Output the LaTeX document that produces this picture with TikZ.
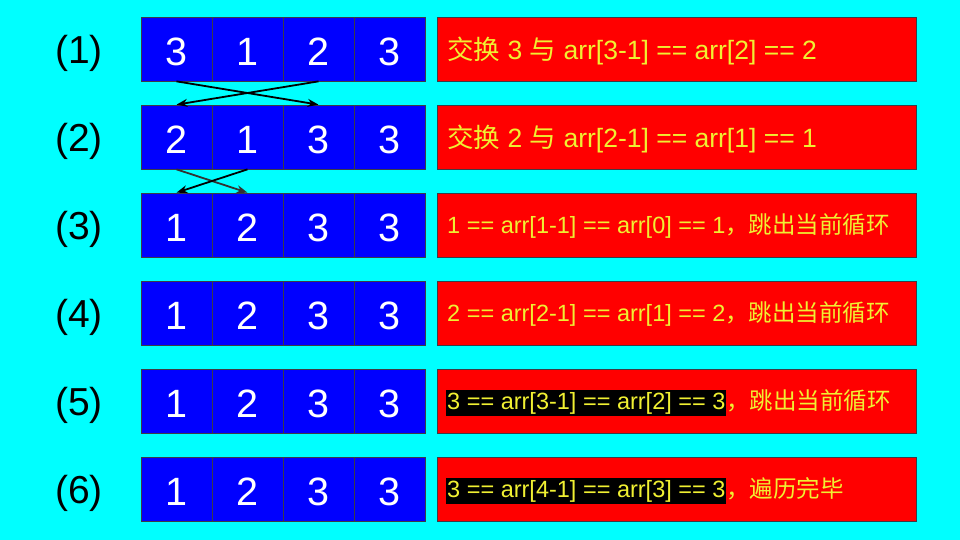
\documentclass[tikz,border=0pt]{standalone}
\usepackage{fontspec}
\setmainfont{Liberation Sans}
\newfontfamily\cjk{Noto Sans CJK SC}
\usetikzlibrary{arrows.meta}
\definecolor{bg}{RGB}{0,255,255}
\definecolor{cellblue}{RGB}{0,0,255}
\definecolor{cellline}{RGB}{60,60,70}
\definecolor{boxred}{RGB}{255,0,0}
\definecolor{txtyellow}{RGB}{240,240,50}
\definecolor{arrgray}{RGB}{50,50,50}
\newcommand{\hl}[1]{{\setlength{\fboxsep}{1pt}\colorbox{black}{\rule[-5pt]{0pt}{24pt}#1}}}
\begin{document}
\begin{tikzpicture}[x=1pt,y=-1pt,
  cell/.style={minimum width=71pt,minimum height=64pt,inner sep=0pt,fill=cellblue,draw=cellline,line width=0.7pt,text=white,text height=32.3pt,text depth=0pt,font=\fontsize{39.5}{39.5}\selectfont},
  rbox/.style={minimum width=479pt,minimum height=64pt,inner sep=0pt,fill=boxred,draw=cellline,line width=0.7pt},
  lab/.style={inner sep=0pt,font=\fontsize{39}{39}\selectfont,text=black},
  bigtxt/.style={inner sep=0pt,anchor=base west,text=txtyellow,font=\fontsize{26.5}{26.5}\selectfont},
  smalltxt/.style={inner sep=0pt,anchor=base west,text=txtyellow,font=\fontsize{23.5}{23.5}\selectfont},
  arr/.style={line width=1.8pt,-{Stealth[length=11pt,width=8pt]}}]
\useasboundingbox[fill=bg] (0,0) rectangle (960,540);
\foreach \r/\a/\b/\c/\d in {1/3/1/2/3, 2/2/1/3/3, 3/1/2/3/3, 4/1/2/3/3, 5/1/2/3/3, 6/1/2/3/3}{
  \pgfmathsetmacro\yy{49+88*(\r-1)}
  \node[cell] (c\r1) at (176.5,\yy) {\a};
  \node[cell] (c\r2) at (247.5,\yy) {\b};
  \node[cell] (c\r3) at (318.5,\yy) {\c};
  \node[cell] (c\r4) at (389.5,\yy) {\d};
  \node[rbox] (b\r) at (676.5,\yy) {};
  \node[lab] (l\r) at (79,\yy+4.5) {(\r)};
}
\node[bigtxt] (t1) at (447,60) {{\cjk 交换} 3 {\cjk 与} arr[3-1] == arr[2] == 2};
\node[bigtxt] (t2) at (447,148) {{\cjk 交换} 2 {\cjk 与} arr[2-1] == arr[1] == 1};
\node[smalltxt] (t3) at (447,233.5) {1 == arr[1-1] == arr[0] == 1{\cjk ，跳出当前循环}};
\node[smalltxt] (t4) at (447,321.5) {2 == arr[2-1] == arr[1] == 2{\cjk ，跳出当前循环}};
\node[smalltxt] (t5) at (446,409.5) {\hl{3 == arr[3-1] == arr[2] == 3}{\cjk ，跳出当前循环}};
\node[smalltxt] (t6) at (446,497.5) {\hl{3 == arr[4-1] == arr[3] == 3}{\cjk ，遍历完毕}};
\draw[arr] (c11.south) -- (c23.north);
\draw[arr] (c13.south) -- (c21.north);
\draw[arr,arrgray] (c21.south) -- (c32.north);
\draw[arr] (c22.south) -- (c31.north);
\end{tikzpicture}
\end{document}
